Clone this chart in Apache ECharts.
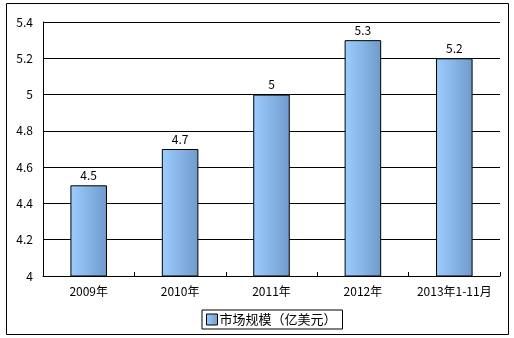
<!DOCTYPE html>
<html><head><meta charset="utf-8">
<script src="https://cdn.jsdelivr.net/npm/echarts@6/dist/echarts.min.js"></script>
<style>html,body{margin:0;padding:0;background:#fff}#c{width:514px;height:338px}</style>
</head><body><div id="c"></div>
<script>
const categories = ['2009年','2010年','2011年','2012年','2013年1-11月'];
const values = [4.5, 4.7, 5, 5.3, 5.2];
const seriesName = '市场规模（亿美元）';
const yMin = 4, yMax = 5.4, yStep = 0.2;

const chart = echarts.init(document.getElementById('c'), null, {renderer:'canvas'});
const font = '"Noto Sans CJK SC", "DejaVu Sans", sans-serif';
chart.setOption({
  animation:false,
  backgroundColor:'#fff',
  graphic:[{type:'rect', shape:{x:6.5,y:3.5,width:502,height:331}, style:{fill:'none',stroke:'#000',lineWidth:1}, silent:true}],
  grid:{left:43, right:14, top:22, bottom:62},
  legend:{
    bottom:9, left:202, itemWidth:11, itemHeight:11, itemGap:0,
    borderColor:'#000', borderWidth:1, padding:[3,6,3,4], borderRadius:0,
    textStyle:{fontSize:13, color:'#000', fontFamily:font, padding:[0,0,0,-3]},
    data:[{name:seriesName, icon:'rect', itemStyle:{borderColor:'#000',borderWidth:1}}]
  },
  xAxis:{
    type:'category', data:categories,
    axisLine:{lineStyle:{color:'#000',width:1}},
    axisTick:{show:true, inside:true, length:4, lineStyle:{color:'#000'}},
    axisLabel:{color:'#000', fontSize:12, fontFamily:font, margin:9, interval:0}
  },
  yAxis:{
    type:'value', min:yMin, max:yMax, interval:yStep,
    axisLine:{show:true, lineStyle:{color:'#000'}},
    axisTick:{show:false},
    splitLine:{lineStyle:{color:'#000',width:1}},
    axisLabel:{color:'#000', fontSize:12, fontFamily:font, margin:10,
      formatter:v=>String(Math.round(v*10)/10)}
  },
  series:[{
    name:seriesName, type:'bar', data:values, barWidth:'40%',
    itemStyle:{
      color:new echarts.graphic.LinearGradient(0,0,1,0,[{offset:0,color:'#9CCDFF'},{offset:1,color:'#6F9BCB'}]),
      borderColor:'#000', borderWidth:1
    },
    label:{show:true, position:'top', color:'#000', fontSize:12, fontFamily:font, distance:4}
  }]
});
</script></body></html>
